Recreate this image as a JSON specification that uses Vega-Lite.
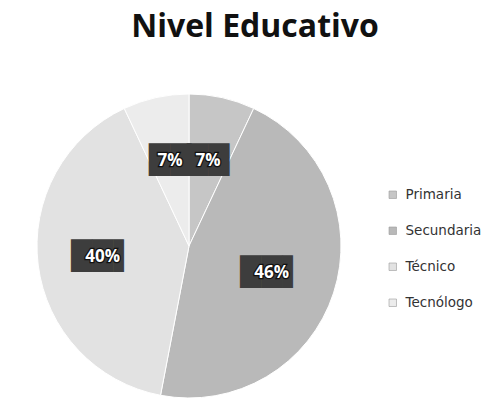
{
  "$schema": "https://vega.github.io/schema/vega-lite/v6.json",
  "autosize": "none",
  "width": 304,
  "height": 304,
  "padding": {"left": 37, "top": 94, "right": 152, "bottom": 22},
  "background": "white",
  "title": {
    "text": "Nivel Educativo",
    "font": "Open Sans",
    "fontSize": 32,
    "fontWeight": "bold",
    "color": "#111111",
    "anchor": "middle",
    "frame": "group",
    "dx": 66,
    "baseline": "alphabetic",
    "offset": 23
  },
  "data": {
    "values": [
      {"k": 1, "cat": "Primaria", "pct": 7, "label": "7%"},
      {"k": 2, "cat": "Secundaria", "pct": 46, "label": "46%"},
      {"k": 3, "cat": "Técnico", "pct": 40, "label": "40%"},
      {"k": 4, "cat": "Tecnólogo", "pct": 7, "label": "7%"}
    ]
  },
  "encoding": {
    "theta": {"field": "pct", "type": "quantitative", "stack": true},
    "order": {"field": "k", "type": "quantitative"},
    "color": {
      "field": "cat",
      "type": "nominal",
      "sort": ["Primaria", "Secundaria", "Técnico", "Tecnólogo"],
      "scale": {
        "domain": ["Primaria", "Secundaria", "Técnico", "Tecnólogo"],
        "range": ["#c6c6c6", "#b9b9b9", "#e2e2e2", "#ececec"]
      },
      "legend": {
        "title": null,
        "orient": "none",
        "legendX": 349,
        "legendY": 94,
        "symbolType": "square",
        "symbolSize": 56,
        "symbolStrokeColor": "#9a9a9a",
        "symbolStrokeWidth": 0.6,
        "labelFont": "DejaVu Sans",
        "labelFontSize": 13.5,
        "labelColor": "#333333",
        "labelOffset": 6,
        "rowPadding": 21
      }
    }
  },
  "layer": [
    {"mark": {"type": "arc", "stroke": "white", "strokeWidth": 1}},
    {
      "mark": {"type": "text", "radius": 87, "font": "DejaVu Sans", "fontSize": 27.5, "baseline": "middle", "align": "center"},
      "encoding": {
        "color": {"value": "#3d3d3d"},
        "text": {"condition": {"test": "datum.pct < 10", "value": "██"}, "value": "██▌"}
      }
    },
    {
      "mark": {"type": "text", "radius": 87, "font": "Open Sans", "fontSize": 17, "fontWeight": "bold", "stroke": "#111111", "strokeWidth": 2.5, "baseline": "middle", "align": "center"},
      "encoding": {"text": {"field": "label"}, "color": {"value": "white"}}
    },
    {
      "mark": {"type": "text", "radius": 87, "font": "Open Sans", "fontSize": 17, "fontWeight": "bold", "baseline": "middle", "align": "center"},
      "encoding": {"text": {"field": "label"}, "color": {"value": "white"}}
    }
  ]
}
